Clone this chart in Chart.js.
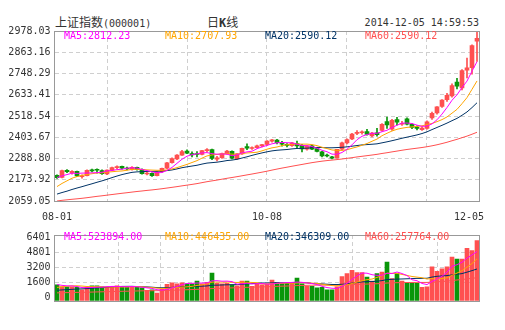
<!DOCTYPE html>
<html><head><meta charset="utf-8">
<script src="https://cdn.jsdelivr.net/npm/chart.js@4/dist/chart.umd.min.js"></script>
<style>
body{margin:0;background:#fff;width:505px;height:330px;overflow:hidden;position:relative;font-family:"DejaVu Sans Mono",monospace;}
.t{position:absolute;white-space:nowrap;font-size:10px;line-height:12px;}
.cjk{font-family:"Noto Sans CJK SC",sans-serif;font-size:12px;}
canvas{position:absolute;left:0;}
</style></head><body>
<div class="t" style="left:55px;top:16px;color:#333;"><span class="cjk">上证指数</span>(000001)</div>
<div class="t" style="left:207px;top:16px;color:#333;"><span class="cjk">日</span><b style="font-size:12px">K</b><span class="cjk">线</span></div>
<div class="t" style="right:26px;top:17px;color:#333;">2014-12-05 14:59:53</div>
<canvas id="c1" width="505" height="225" style="top:0"></canvas>
<canvas id="c2" width="505" height="105" style="top:225px"></canvas>
<div class="t" style="left:64px;top:30px;color:#ff00ff">MA5:2812.23</div>
<div class="t" style="left:165px;top:30px;color:#ffa500">MA10:2707.93</div>
<div class="t" style="left:265px;top:30px;color:#003366">MA20:2590.12</div>
<div class="t" style="left:365px;top:30px;color:#ff5050">MA60:2590.12</div>
<div class="t" style="left:64px;top:231px;color:#ff00ff">MA5:523894.00</div>
<div class="t" style="left:165px;top:231px;color:#ffa500">MA10:446435.00</div>
<div class="t" style="left:265px;top:231px;color:#003366">MA20:346309.00</div>
<div class="t" style="left:365px;top:231px;color:#ff5050">MA60:257764.00</div>
<script>
const dates = ["08-01","08-04","08-05","08-06","08-07","08-08","08-11","08-12","08-13","08-14","08-15","08-18","08-19","08-20","08-21","08-22","08-25","08-26","08-27","08-28","08-29","09-01","09-02","09-03","09-04","09-05","09-09","09-10","09-11","09-12","09-15","09-16","09-17","09-18","09-19","09-22","09-23","09-24","09-25","09-26","09-29","09-30","10-08","10-09","10-10","10-13","10-14","10-15","10-16","10-17","10-20","10-21","10-22","10-23","10-24","10-27","10-28","10-29","10-30","10-31","11-03","11-04","11-05","11-06","11-07","11-10","11-11","11-12","11-13","11-14","11-17","11-18","11-19","11-20","11-21","11-24","11-25","11-26","11-27","11-28","12-01","12-02","12-03","12-04","12-05"];
const open  = [2197.5,2186,2224.5,2212,2219,2190,2196,2226,2230,2224,2205,2226,2239,2246,2236,2230,2241,2229,2205,2209,2196,2217,2236,2266,2286,2307,2329,2316,2312,2311,2331,2337,2285,2293,2314,2328,2287,2313,2353,2343,2348,2357,2365,2383,2388,2372,2364,2358,2370,2360,2339,2357,2342,2325,2306,2298,2292,2339,2373,2394,2425,2428,2434,2411,2428,2440,2488,2447,2499,2474,2503,2474,2459,2444,2451,2508,2535,2570,2607,2627,2702,2671,2766,2780,2923];
const high  = [2201,2226.5,2229,2223,2221,2200,2227,2231,2233,2227,2228,2243,2249,2248,2242,2245,2243,2233,2215,2211,2219,2237,2268,2293,2310,2333,2335,2325,2326,2333,2343,2340,2300,2318,2333,2330,2316,2345,2368,2352,2361,2366,2385,2392,2393,2381,2369,2376,2383,2365,2359,2361,2348,2328,2313,2301,2339,2377,2395,2425,2440,2438,2447,2430,2452,2478,2513,2500,2512,2490,2508,2478,2466,2460,2492,2540,2570,2607,2641,2692,2722,2769,2832,2903,2978.03];
const low   = [2181,2184,2212,2204,2190,2182,2195,2216,2210,2203,2201,2223,2234,2231,2227,2226,2226,2204,2200,2192,2194,2213,2234,2263,2282,2305,2315,2298,2298,2308,2325,2283,2276,2289,2312,2286,2284,2311,2336,2338,2345,2352,2360,2377,2367,2355,2351,2354,2346,2324,2334,2337,2325,2297,2297,2286,2290,2335,2368,2390,2418,2420,2415,2405,2410,2436,2452,2441,2470,2467,2470,2450,2443,2440,2447,2500,2528,2565,2598,2620,2665,2660,2724,2745,2813];
const close = [2185.30,2223.33,2217.20,2219.97,2194.42,2194.42,2224.65,2222.12,2225.43,2206.47,2226.73,2239.47,2245.33,2236.49,2232.05,2240.81,2229.30,2207.00,2209.46,2195.38,2217.20,2235.51,2266.05,2288.63,2306.86,2326.43,2318.23,2307.89,2310.52,2331.95,2334.85,2289.73,2293.04,2315.93,2329.45,2290.44,2314.35,2343.58,2345.10,2347.72,2357.55,2363.87,2382.79,2389.37,2374.54,2366.01,2359.47,2373.67,2356.50,2341.18,2356.84,2339.66,2326.55,2302.42,2302.28,2290.44,2337.87,2373.03,2391.08,2420.18,2430.03,2430.68,2419.25,2425.86,2418.17,2473.67,2469.67,2494.48,2485.61,2478.82,2474.01,2456.37,2450.99,2452.66,2486.79,2532.88,2567.60,2604.35,2630.49,2682.84,2680.16,2763.55,2779.53,2899.47,2938.44];
const ma5  = [2185.77,2195.04,2201.88,2209.47,2208.04,2209.87,2210.13,2211.12,2212.21,2214.62,2221.08,2224.04,2228.69,2230.90,2236.01,2238.83,2236.80,2229.13,2223.72,2216.39,2211.67,2212.91,2224.72,2240.55,2262.85,2284.70,2301.24,2309.61,2313.99,2319.00,2320.69,2314.99,2312.02,2313.10,2312.60,2303.72,2308.64,2318.75,2324.58,2328.24,2341.66,2351.56,2359.41,2368.26,2373.62,2375.32,2374.44,2372.61,2366.04,2359.37,2357.53,2353.57,2344.15,2333.33,2325.55,2312.27,2311.91,2321.21,2338.94,2362.52,2390.44,2409.00,2418.24,2425.20,2424.80,2433.53,2441.32,2456.37,2468.32,2480.45,2480.52,2477.86,2469.16,2462.57,2464.16,2475.94,2498.18,2528.86,2564.42,2603.63,2633.09,2672.28,2707.31,2761.11,2812.23];
const ma10 = [2137.00,2153.93,2168.10,2182.30,2191.04,2197.82,2202.59,2206.50,2210.84,2211.33,2215.47,2217.09,2219.90,2221.55,2225.32,2229.96,2230.42,2228.91,2227.31,2226.20,2225.25,2224.85,2226.93,2232.14,2239.62,2248.18,2257.08,2267.16,2277.27,2290.93,2302.69,2308.11,2310.81,2313.54,2315.80,2312.20,2311.82,2315.38,2318.84,2320.42,2322.69,2330.10,2339.08,2346.42,2350.93,2358.49,2363.00,2366.01,2367.15,2366.50,2366.42,2364.00,2358.38,2349.68,2342.46,2334.90,2332.74,2332.68,2336.14,2344.04,2351.35,2360.46,2369.73,2382.07,2393.66,2411.98,2425.16,2437.31,2446.76,2452.62,2457.02,2459.59,2462.77,2465.45,2472.31,2478.23,2488.02,2499.01,2513.50,2533.90,2554.51,2585.23,2618.09,2662.77,2707.93];
const ma20 = [2096.46,2104.77,2112.29,2121.38,2129.20,2136.57,2144.55,2152.21,2160.28,2167.85,2176.23,2185.51,2194.00,2201.93,2208.18,2213.89,2216.50,2217.70,2219.08,2218.77,2220.36,2220.97,2223.41,2226.85,2232.47,2239.07,2243.75,2248.04,2252.29,2258.56,2263.97,2266.48,2268.87,2272.84,2277.71,2280.19,2284.45,2291.27,2298.06,2305.67,2312.69,2319.11,2324.95,2329.98,2333.37,2335.35,2337.41,2340.70,2343.00,2343.46,2344.56,2347.05,2348.73,2348.05,2346.69,2346.69,2347.87,2349.34,2351.64,2355.27,2358.89,2362.23,2364.05,2365.88,2368.06,2373.44,2378.95,2384.99,2391.45,2398.33,2404.19,2410.02,2416.25,2423.76,2432.98,2445.11,2456.59,2468.16,2480.13,2493.26,2505.77,2522.41,2540.43,2564.11,2590.12];
const ma60 = [2059.05,2062.76,2065.51,2068.34,2070.80,2073.64,2076.95,2080.57,2084.19,2087.23,2090.66,2094.08,2097.47,2100.86,2103.89,2107.24,2110.41,2113.23,2116.32,2118.94,2122.08,2125.52,2129.09,2132.88,2136.68,2140.94,2144.79,2148.82,2153.08,2158.22,2163.39,2167.82,2172.13,2176.97,2181.82,2186.05,2190.48,2195.37,2200.13,2204.87,2209.84,2214.95,2220.22,2226.07,2231.68,2237.00,2241.91,2246.99,2251.87,2256.64,2261.60,2266.36,2270.54,2274.28,2277.53,2280.26,2282.94,2286.11,2289.59,2293.23,2297.31,2300.77,2304.14,2307.57,2311.30,2315.95,2320.03,2324.57,2328.91,2333.45,2337.57,2341.19,2344.62,2348.22,2352.47,2357.34,2362.98,2369.60,2376.62,2384.74,2392.46,2401.26,2409.82,2420.00,2430.53];
const volume = [1694,1476,1476,1476,1421,1148,1421,1585,1585,1476,1421,1530,1585,1476,1421,1530,1421,1366,1093,1148,820,1202,1749,1913,1803,1913,1803,1803,2077,1803,1967,2951,1858,1803,1858,1694,1585,2077,2077,1530,1749,1694,1749,2186,1967,1858,1858,1858,2405,1803,1530,1530,1366,1421,1148,1148,1476,2569,2896,3224,3006,3006,2514,2077,2896,3039,4099,2350,2896,2077,1967,1858,1858,1421,1476,3607,3115,3388,3607,4645,4420,4420,5575,5344,6401];
const vma5  = [1719,1634,1579,1574,1509,1399,1388,1410,1432,1443,1498,1519,1519,1498,1487,1508,1487,1443,1366,1312,1170,1126,1202,1366,1497,1716,1836,1847,1880,1880,1891,2120,2131,2076,2087,2033,1760,1803,1858,1793,1804,1825,1760,1782,1869,1891,1924,1945,1989,1956,1891,1825,1727,1530,1399,1323,1312,1552,1847,2263,2634,2940,2929,2765,2700,2706,2925,2892,3056,2892,2678,2230,2131,1836,1716,2044,2295,2601,3039,3672,3835,4096,4533,4881,5232];
const vma10 = [1415,1487,1535,1577,1589,1559,1511,1495,1503,1476,1449,1454,1465,1465,1465,1503,1503,1481,1432,1399,1339,1306,1323,1366,1405,1443,1481,1525,1623,1689,1803,1978,1989,1978,1984,1962,1940,1967,1967,1940,1918,1793,1782,1820,1831,1847,1875,1853,1885,1913,1891,1874,1836,1760,1678,1607,1569,1640,1689,1831,1978,2126,2241,2306,2481,2670,2933,2911,2911,2796,2692,2577,2512,2446,2304,2361,2263,2366,2437,2694,2940,3196,3567,3960,4452];
const vma20 = [1112,1147,1180,1209,1242,1262,1292,1328,1366,1400,1432,1470,1500,1521,1527,1531,1507,1488,1468,1437,1394,1380,1394,1416,1435,1473,1492,1503,1528,1544,1571,1642,1656,1672,1694,1702,1710,1746,1795,1814,1861,1885,1885,1899,1907,1904,1907,1910,1926,1926,1905,1833,1809,1790,1754,1727,1722,1746,1787,1872,1935,2000,2038,2033,2079,2139,2251,2275,2300,2313,2335,2352,2376,2376,2393,2516,2598,2639,2674,2745,2816,2887,3040,3203,3378];
const vma60 = [834,847,860,873,885,892,904,919,934,947,959,972,987,1000,1012,1026,1038,1049,1055,1063,1065,1073,1091,1111,1129,1150,1168,1186,1209,1228,1250,1289,1310,1329,1349,1367,1382,1405,1427,1440,1456,1471,1487,1508,1528,1547,1564,1581,1607,1624,1636,1649,1655,1661,1659,1654,1647,1660,1683,1708,1730,1755,1773,1783,1807,1839,1883,1896,1918,1928,1937,1942,1947,1946,1947,1981,2010,2043,2085,2144,2204,2257,2321,2378,2455];
const priceTicks = ["2059.05","2173.92","2288.80","2403.67","2518.54","2633.41","2748.29","2863.16","2978.03"];
const volTicks = ["0","1600","3200","4801","6401"];
const xTickIdx = [0,42,84];

const RED='#ff5050', GREEN='#0a960a', GRID='#cfcfcf', BOX='#999', TXT='#333';
const C5='#ff00ff', C10='#ffa500', C20='#003366', C60='#ff5050';
const colors = close.map((c,i)=> c>=open[i] ? RED : GREEN);
const bodies = close.map((c,i)=>[open[i],c]);
const wicks = close.map((c,i)=>[low[i],high[i]]);
const FONT = {family:'"DejaVu Sans Mono", monospace', size:10};

const boxPlugin = {id:'box', afterDraw(ch){const a=ch.chartArea,c=ch.ctx;c.save();c.strokeStyle=BOX;c.lineWidth=1;c.strokeRect(Math.floor(a.left)+0.5,Math.floor(a.top)+0.5,Math.round(a.right-a.left),Math.round(a.bottom-a.top));c.restore();}};
const xLabels = {id:'xl', afterDraw(ch){const c=ch.ctx,s=ch.scales.x;c.save();c.font='10px "DejaVu Sans Mono"';c.fillStyle=TXT;c.textBaseline='middle';
  xTickIdx.forEach(i=>{const t=dates[i];const w=c.measureText(t).width;let x=s.getPixelForValue(i)-w/2;if(x+w>484)x=484-w;c.fillText(t,x,217);});c.restore();}};

function common(){return {responsive:false,animation:false,events:[],plugins:{legend:{display:false},tooltip:{enabled:false}}};}
const xgrid = (marks)=>({type:'linear',min:0,max:8,position:'bottom',afterBuildTicks:s=>{s.ticks=marks.map(v=>({value:v}));},afterFit:s=>{s.height=0;},ticks:{display:false},grid:{color:GRID,drawTicks:false,lineWidth:1},border:{display:false,dash:[4,3]}});

const lineDs = (d,col,axis)=>({type:'line',data:d,borderColor:col,borderWidth:1,pointRadius:0,tension:0,order:0,yAxisID:axis});

new Chart(document.getElementById('c1'),{
  type:'bar',
  data:{labels:dates,datasets:[
    lineDs(ma5,C5,'y'),lineDs(ma10,C10,'y'),lineDs(ma20,C20,'y'),lineDs(ma60,C60,'y'),
    {type:'bar',data:wicks,backgroundColor:colors,barThickness:1,grouped:false,order:2,yAxisID:'y'},
    {type:'bar',data:bodies,backgroundColor:colors,barThickness:4,grouped:false,order:1,minBarLength:1,yAxisID:'y'}
  ]},
  options:Object.assign(common(),{
    layout:{padding:{top:31,right:25.5,bottom:24,left:0}},
    scales:{
      x:{display:false,offset:true},
      xg:xgrid([1,3,5,7]),
      y:{min:2059.05,max:2978.03,afterFit:s=>{s.width=54.5;},afterBuildTicks:s=>{s.ticks=priceTicks.map(v=>({value:parseFloat(v)}));},
         ticks:{font:FONT,color:TXT,padding:4,callback:(v,i)=>priceTicks[i]},grid:{color:GRID,drawTicks:false},border:{display:false,dash:[4,3]}}
    }
  }),
  plugins:[boxPlugin,xLabels]
});

new Chart(document.getElementById('c2'),{
  type:'bar',
  data:{labels:dates,datasets:[
    lineDs(vma5,C5,'yv'),lineDs(vma10,C10,'yv'),lineDs(vma20,C20,'yv'),lineDs(vma60,C60,'yv'),
    {type:'bar',data:volume,backgroundColor:colors,barThickness:4,grouped:false,order:1,yAxisID:'yv'}
  ]},
  options:Object.assign(common(),{
    layout:{padding:{top:5,right:25.5,bottom:29.3,left:0}},
    scales:{
      x:{display:false,offset:true},
      xg:xgrid([1,2,3,5,7]),
      yv:{display:false,min:0,max:6995},
      yg:{position:'left',min:-399,max:6650,afterFit:s=>{s.width=54.5;},afterBuildTicks:s=>{s.ticks=volTicks.map(v=>({value:parseFloat(v)}));},
         ticks:{font:FONT,color:TXT,padding:4,callback:(v,i)=>volTicks[i]},
         grid:{color:c=>(c.index>0&&c.index<volTicks.length-1)?GRID:'rgba(0,0,0,0)',drawTicks:false},border:{display:false,dash:[4,3]}}
    }
  }),
  plugins:[boxPlugin]
});
</script>
</body></html>
